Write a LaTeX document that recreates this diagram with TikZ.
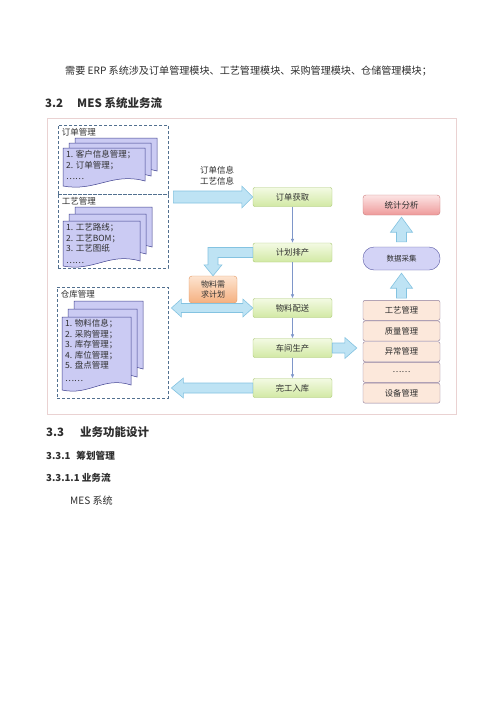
\documentclass[tikz,border=0pt]{standalone}
\usepackage{fontspec}
\setmainfont{Noto Sans CJK SC}
\usetikzlibrary{calc,arrows.meta,positioning}
\definecolor{framepink}{HTML}{EAD2D2}
\definecolor{grpblue}{HTML}{52708F}
\definecolor{pagefill}{HTML}{CBCBF3}
\definecolor{pageline}{HTML}{40428F}
\definecolor{procA}{HTML}{F3FAE3}
\definecolor{procB}{HTML}{D2E9A4}
\definecolor{procline}{HTML}{A9C873}
\definecolor{needA}{HTML}{FDE4D0}
\definecolor{needB}{HTML}{F5B080}
\definecolor{needline}{HTML}{E39862}
\definecolor{statA}{HTML}{FCE4E4}
\definecolor{statB}{HTML}{EE9A9A}
\definecolor{statline}{HTML}{CC7C7C}
\definecolor{collectfill}{HTML}{D3D3F6}
\definecolor{collectline}{HTML}{5B5BA6}
\definecolor{modfill}{HTML}{FCE8DB}
\definecolor{modline}{HTML}{8E7C9B}
\definecolor{arrowfill}{HTML}{BEE3F4}
\definecolor{arrowline}{HTML}{84C3E1}
\definecolor{flowline}{HTML}{7E96C9}
\definecolor{txtgray}{HTML}{2E2E2E}
\tikzset{
  bodytext/.style={inner sep=0pt, anchor=west, text=txtgray, font=\fontsize{10.1}{12}\selectfont},
  headtext/.style={inner sep=0pt, anchor=west, text=txtgray, font=\fontsize{11.5}{13}\selectfont\bfseries},
  subhead/.style={inner sep=0pt, anchor=west, text=txtgray, font=\fontsize{9.6}{11}\selectfont\bfseries},
  grpbox/.style={draw=grpblue, line width=0.8pt, dash pattern=on 3pt off 2pt, inner sep=0pt},
  grplabel/.style={inner sep=1pt, anchor=north west, text=txtgray, font=\fontsize{8.5}{10}\selectfont},
  docpage/.style={fill=pagefill, draw=pageline, line width=0.5pt},
  doctext/.style={inner sep=0pt, anchor=north west, align=left, text=txtgray, font=\fontsize{8.5}{10.5}\selectfont},
  procbox/.style={draw=procline, top color=procA, bottom color=procB, rounded corners=2pt,
    minimum width=79pt, minimum height=19pt, inner sep=0pt, text=txtgray, font=\fontsize{8.3}{10}\selectfont},
  needbox/.style={draw=needline, top color=needA, bottom color=needB, rounded corners=3pt,
    minimum width=48pt, minimum height=27pt, inner sep=0pt, align=center, text=txtgray, font=\fontsize{8}{9.5}\selectfont},
  statbox/.style={draw=statline, top color=statA, bottom color=statB, rounded corners=3pt,
    minimum width=77pt, minimum height=20pt, inner sep=0pt, text=txtgray, font=\fontsize{8.5}{10}\selectfont},
  collectbox/.style={draw=collectline, fill=collectfill, rounded corners=11pt,
    minimum width=77pt, minimum height=23pt, inner sep=0pt, text=txtgray, font=\fontsize{7.5}{9}\selectfont},
  modbox/.style={draw=modline, fill=modfill, rounded corners=2pt,
    minimum width=77pt, minimum height=20pt, inner sep=0pt, text=txtgray, font=\fontsize{8.3}{10}\selectfont},
  blockarrow/.style={fill=arrowfill, draw=arrowline, line width=0.6pt, line join=miter},
  flow/.style={draw=flowline, line width=0.5pt, -{Latex[length=4pt,width=3.5pt]}},
}
% one page of a document stack: top left x, y, width, height
\newcommand{\docpage}[4]{%
  \filldraw[docpage] (#1,#2) -- (#1+#3,#2) -- (#1+#3,#2+#4-5)
    .. controls (#1+0.6*#3,#2+#4-14) and (#1+0.4*#3,#2+#4+6) .. (#1,#2+#4) -- cycle;}
% broad arrow: from, to, shaft half width, head half width, head length
\newcommand{\blockarrow}[5]{%
  \draw[blockarrow] let \p1=(#1), \p2=(#2), \n1={atan2(\y2-\y1,\x2-\x1)},
    \n2={veclen(\x2-\x1,\y2-\y1)} in
    ($(\p1)+(\n1+90:#3)$) -- ($(\p1)+(\n1:{\n2-#5})+(\n1+90:#3)$)
    -- ($(\p1)+(\n1:{\n2-#5})+(\n1+90:#4)$) -- (\p2)
    -- ($(\p1)+(\n1:{\n2-#5})+(\n1-90:#4)$) -- ($(\p1)+(\n1:{\n2-#5})+(\n1-90:#3)$)
    -- ($(\p1)+(\n1-90:#3)$) -- cycle;}
\newcommand{\dblarrow}[5]{%
  \draw[blockarrow] let \p1=(#1), \p2=(#2), \n1={atan2(\y2-\y1,\x2-\x1)},
    \n2={veclen(\x2-\x1,\y2-\y1)} in
    (\p1) -- ($(\p1)+(\n1:#5)+(\n1+90:#4)$) -- ($(\p1)+(\n1:#5)+(\n1+90:#3)$)
    -- ($(\p1)+(\n1:{\n2-#5})+(\n1+90:#3)$) -- ($(\p1)+(\n1:{\n2-#5})+(\n1+90:#4)$) -- (\p2)
    -- ($(\p1)+(\n1:{\n2-#5})+(\n1-90:#4)$) -- ($(\p1)+(\n1:{\n2-#5})+(\n1-90:#3)$)
    -- ($(\p1)+(\n1:#5)+(\n1-90:#3)$) -- ($(\p1)+(\n1:#5)+(\n1-90:#4)$) -- cycle;}

\begin{document}
\begin{tikzpicture}[x=1pt, y=-1pt]
  \fill[white] (0,0) rectangle (500,707);
  \useasboundingbox (0,0) rectangle (500,707);
  % page text
  \node[bodytext] (intro) at (65,71) {需要 ERP 系统涉及订单管理模块、工艺管理模块、采购管理模块、仓储管理模块；};
  \node[headtext] (sec32) at (45,103) {3.2\hspace{14pt}MES 系统业务流};
  % figure frame
  \draw[framepink, line width=0.8pt] (47,118) rectangle (456,414);
  % left: ERP modules
  \node[grpbox, minimum width=110pt, minimum height=69pt] (dingdan) at (113,159.5) {};
  \node[grpbox, minimum width=110pt, minimum height=74pt] (gongyi) at (113,231) {};
  \node[grpbox, minimum width=111pt, minimum height=111pt] (cangku) at (112.5,342.5) {};
  \node[grplabel] (dingdanlbl) at ([xshift=3pt,yshift=-3pt]dingdan.north west) {订单管理};
  \node[grplabel] (gongyilbl) at ([xshift=3pt,yshift=-3pt]gongyi.north west) {工艺管理};
  \node[grplabel] (cangkulbl) at ([xshift=3pt,yshift=-3pt]cangku.north west) {仓库管理};
  \foreach \k in {2,1,0} {
    \docpage{63+6*\k}{148-5*\k}{82}{38}
    \docpage{63+6*\k}{221-7*\k}{77}{45}
    \docpage{62+6*\k}{317-8*\k}{69}{73}
  }
  \node[doctext] (dingdanlist) at (66,150.5) {1. 客户信息管理；\\2. 订单管理；\\[1pt]……};
  \node[doctext] (gongyilist) at (66,223.5) {1. 工艺路线；\\2. 工艺BOM；\\3. 工艺图纸\\[1pt]……};
  \node[doctext] (cangkulist) at (65,319.5) {1. 物料信息；\\2. 采购管理；\\3. 库存管理；\\4. 库位管理；\\5. 盘点管理\\[2pt]……};
  % middle: MES flow
  \node[procbox] (huoqu) at (292.5,197) {订单获取};
  \node[procbox] (jihua) at (292.5,252.5) {计划排产};
  \node[procbox] (peisong) at (292.5,308) {物料配送};
  \node[procbox] (shengchan) at (292.5,348) {车间生产};
  \node[procbox] (ruku) at (292.5,388) {完工入库};
  \node[needbox] (xuqiu) at (213,289.5) {物料需\\求计划};
  \node[inner sep=0pt, align=center, text=txtgray, font=\fontsize{8.5}{11}\selectfont] (infolbl) at (217,175.5) {订单信息\\工艺信息};
  \draw[flow] (huoqu) -- (jihua);
  \draw[flow] (jihua) -- (peisong);
  \draw[flow] (peisong) -- (shengchan);
  \draw[flow] (shengchan) -- (ruku);
  % right: data side
  \node[statbox] (tongji) at (401.5,205) {统计分析};
  \node[collectbox] (caiji) at (401.5,258.5) {数据采集};
  \foreach \lbl [count=\i] in {工艺管理,质量管理,异常管理,……,设备管理}
    \node[modbox] (mod\i) at (401.5,289.6+20.7*\i) {\lbl};
  % broad arrows
  \coordinate (infoin) at ($(dingdan.east |- huoqu.west)+(5,0)$);
  \coordinate (matout) at ($(cangku.east |- peisong.west)+(3,0)$);
  \coordinate (stockin) at ($(cangku.east |- ruku.west)+(3,0)$);
  \coordinate (modin) at ($(shengchan.east -| mod3.west)+(-6,0)$);
  \blockarrow{infoin}{huoqu.west}{6pt}{11pt}{11pt}
  \dblarrow{matout}{peisong.west}{4.5pt}{9pt}{10pt}
  \blockarrow{ruku.west}{stockin}{5pt}{10pt}{12pt}
  \blockarrow{shengchan.east}{modin}{5pt}{10.5pt}{12pt}
  \blockarrow{$(caiji.north)+(0,-5)$}{$(tongji.south)+(0,2)$}{5pt}{11pt}{15pt}
  \blockarrow{$(mod1.north)+(0,-2)$}{$(caiji.south)+(0,3)$}{5pt}{11pt}{15pt}
  \draw[blockarrow] let \p1=(jihua.west), \p2=(xuqiu.north) in
    (\x1,\y1+5pt) -- (\x2-5pt,\y1+5pt) -- (\x2-5pt,\y2+11pt) -- (\x2-9pt,\y2+11pt) -- (\p2)
    -- (\x2+9pt,\y2+11pt) -- (\x2+5pt,\y2+11pt) -- (\x2+5pt,\y1-5pt) -- (\x1,\y1-5pt) -- cycle;
  % following sections
  \node[headtext] (sec33) at (46,432) {3.3\hspace{16pt}业务功能设计};
  \node[subhead] (sec331) at (46,456) {3.3.1\hspace{6pt}筹划管理};
  \node[subhead] (sec3311) at (46,478) {3.3.1.1 业务流};
  \node[bodytext] (mes) at (70,501) {MES 系统};
\end{tikzpicture}
\end{document}
